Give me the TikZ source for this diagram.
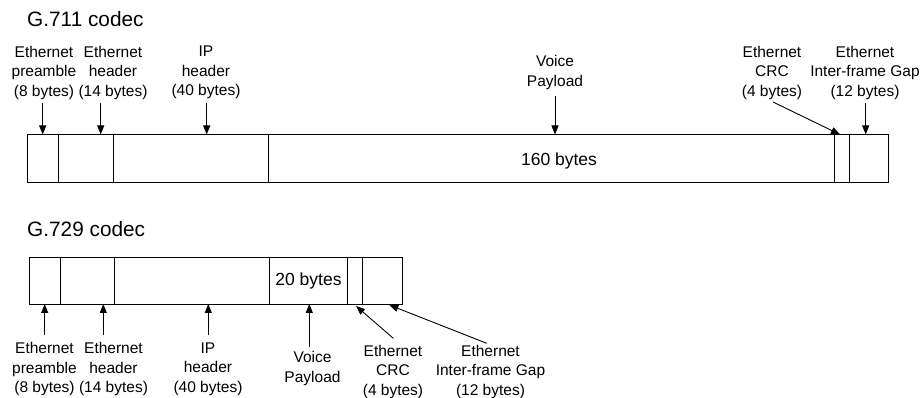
\documentclass[tikz,border=0pt]{standalone}
\usepackage{fontspec}
\setmainfont{Liberation Sans}
\usetikzlibrary{arrows.meta}
\begin{document}
\begin{tikzpicture}[x=1pt,y=-1pt,
  cell/.style={draw, line width=0.9pt, rectangle, inner sep=0pt, outer sep=0pt, anchor=north west},
  lbl/.style={align=center, inner sep=0pt, font=\fontsize{15.5}{19.5}\selectfont},
  ttl/.style={anchor=base west, inner sep=0pt, font=\fontsize{20.8}{24}\selectfont},
  big/.style={anchor=base, inner sep=0pt, font=\fontsize{17.5}{21}\selectfont},
  arr/.style={-{Triangle[length=9pt,width=7pt]}, line width=0.9pt}]
\useasboundingbox (0,0) rectangle (922,398);

% ---------- G.711 ----------
\node[ttl] (t711) at (27,26.7) {G.711 codec};
\node[cell, minimum width=31.5pt, minimum height=47.5pt] (a1) at (27,134.5) {};
\node[cell, minimum width=54.5pt, minimum height=47.5pt] (a2) at (58.5,134.5) {};
\node[cell, minimum width=155pt, minimum height=47.5pt] (a3) at (113,134.5) {};
\node[cell, minimum width=566.5pt, minimum height=47.5pt] (a4) at (268,134.5) {};
\node[cell, minimum width=15pt, minimum height=47.5pt] (a5) at (834.5,134.5) {};
\node[cell, minimum width=38.5pt, minimum height=47.5pt] (a6) at (849.5,134.5) {};
\node[big] (n160) at (559,166) {160 bytes};

\node[lbl] (la1) at (44,72.5) {Ethernet\\preamble\\(8 bytes)};
\node[lbl] (la2) at (113,72.5) {Ethernet\\header\\(14 bytes)};
\node[lbl] (la3) at (206,72.5) {IP\\header\\(40 bytes)};
\node[lbl] (la4) at (555,72.5) {Voice\\Payload};
\node[lbl] (la5) at (772,72.5) {Ethernet\\CRC\\(4 bytes)};
\node[lbl] (la6) at (865,72.5) {Ethernet\\Inter-frame Gap\\(12 bytes)};

\coordinate (sa1) at (42.7,103);  \coordinate (ta1) at (42.7,134.5);
\coordinate (sa2) at (100.7,103); \coordinate (ta2) at (100.7,134.5);
\coordinate (sa3) at (206.7,103); \coordinate (ta3) at (206.7,134.5);
\coordinate (sa4) at (555,96);    \coordinate (ta4) at (555,134.5);
\coordinate (sa5) at (773,102);   \coordinate (ta5) at (840,134.5);
\coordinate (sa6) at (865.7,103); \coordinate (ta6) at (865.7,134.5);
\foreach \i in {1,...,6} {\draw[arr] (sa\i) -- (ta\i);}

% ---------- G.729 ----------
\node[ttl] (t729) at (27,236.7) {G.729 codec};
\node[cell, minimum width=31.5pt, minimum height=47pt] (b1) at (29,257) {};
\node[cell, minimum width=54pt, minimum height=47pt] (b2) at (60.5,257) {};
\node[cell, minimum width=155pt, minimum height=47pt] (b3) at (114.5,257) {};
\node[cell, minimum width=78pt, minimum height=47pt] (b4) at (269.5,257) {};
\node[cell, minimum width=15pt, minimum height=47pt] (b5) at (347.5,257) {};
\node[cell, minimum width=39.5pt, minimum height=47pt] (b6) at (362.5,257) {};
\node[big] (n20) at (308.5,286) {20 bytes};

\node[lbl] (lb1) at (44.5,369) {Ethernet\\preamble\\(8 bytes)};
\node[lbl] (lb2) at (113.5,369) {Ethernet\\header\\(14 bytes)};
\node[lbl] (lb3) at (208,369) {IP\\header\\(40 bytes)};
\node[lbl] (lb4) at (312.5,368.5) {Voice\\Payload};
\node[lbl] (lb5) at (393,371.6) {Ethernet\\CRC\\(4 bytes)};
\node[lbl] (lb6) at (490.5,371.6) {Ethernet\\Inter-frame Gap\\(12 bytes)};

\coordinate (sb1) at (44.7,335);  \coordinate (tb1) at (44.7,304);
\coordinate (sb2) at (103.3,335); \coordinate (tb2) at (103.3,304);
\coordinate (sb3) at (208.3,335); \coordinate (tb3) at (208.3,304);
\coordinate (sb4) at (309.3,346.7); \coordinate (tb4) at (309.3,304);
\coordinate (sb5) at (393.3,338.3); \coordinate (tb5) at (356,306);
\coordinate (sb6) at (486.7,343.3); \coordinate (tb6) at (389.3,305);
\foreach \i in {1,...,6} {\draw[arr] (sb\i) -- (tb\i);}
\end{tikzpicture}
\end{document}
